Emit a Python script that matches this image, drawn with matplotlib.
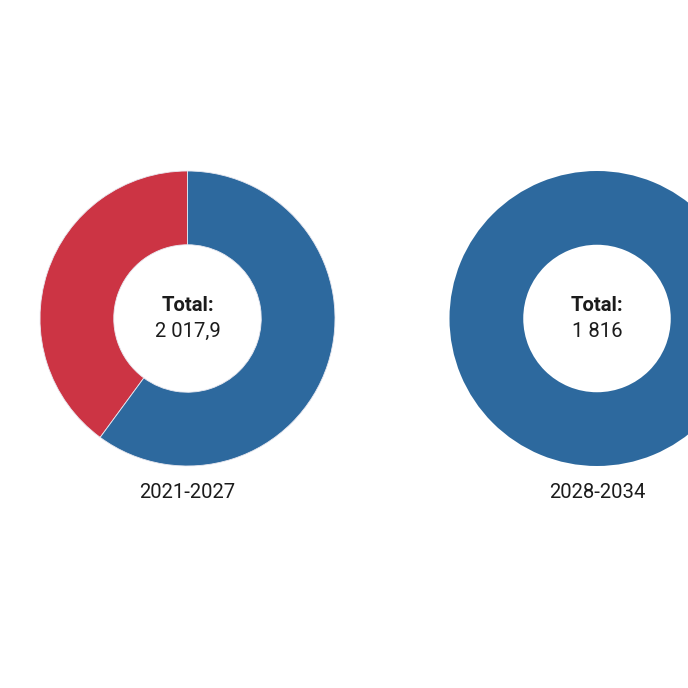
import matplotlib
matplotlib.use('Agg')
import matplotlib.pyplot as plt

# periods and their values (red share, blue share)
periods = ['2021-2027', '2028-2034']
red_values = [805.5, 0.0]
blue_values = [1212.4, 1816.0]
totals = ['2 017,9', '1 816']

colors = ['#CC3444', '#2D699E']

plt.rcParams['font.family'] = ['Roboto', 'DejaVu Sans']

fig = plt.figure(figsize=(6.88, 6.88), dpi=100)
ax = fig.add_axes([0, 0, 1, 1])

centers_x = [187.5, 597]  # pixel layout of the two donuts
cy = 369.5
r_out = 147.5

for i, period in enumerate(periods):
    vals = [red_values[i], blue_values[i]]
    cols = [c for v, c in zip(vals, colors) if v > 0]
    vals = [v for v in vals if v > 0]
    ax.pie(vals, colors=cols, startangle=90, counterclock=True,
           center=(centers_x[i], cy), radius=r_out, frame=True,
           wedgeprops=dict(width=r_out * 0.5, edgecolor='#E8E8F0',
                           linewidth=0.6 if len(vals) > 1 else 0))
    ax.text(centers_x[i], cy + 13, 'Total:', ha='center', va='center',
            fontsize=14.6, fontweight='bold', color='#1c1c1c')
    ax.text(centers_x[i], cy - 13, totals[i], ha='center', va='center',
            fontsize=14.6, color='#1c1c1c')
    ax.text(centers_x[i], cy - 174, period, ha='center', va='center',
            fontsize=14.6, color='#1c1c1c')

ax.set_xlim(0, 688)
ax.set_ylim(0, 688)
ax.set_aspect('equal')
ax.axis('off')

fig.savefig('out.png', dpi=100, facecolor='white')
